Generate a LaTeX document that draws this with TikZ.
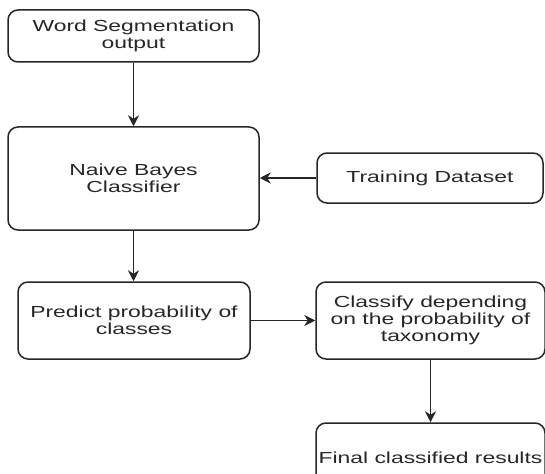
\documentclass[tikz,border=0pt]{standalone}
\usepackage{fontspec}
\setmainfont{Liberation Sans}[FakeStretch=1.43]
\usetikzlibrary{arrows.meta}
\tikzset{
  flowbox/.style={draw=black!85, line width=1.5pt, rounded corners=10pt,
    align=center, inner sep=0pt, text=black!85,
    font=\fontsize{16pt}{17pt}\selectfont},
  flowarrow/.style={draw=black!85, line width=1.6pt,
    -{Stealth[length=11pt,width=11pt,inset=3.5pt]}}
}
\begin{document}
\begin{tikzpicture}[x=1pt,y=-1pt]
  \useasboundingbox (0,0) rectangle (545,473);
  \clip (0,0) rectangle (545,473);
  \node[flowbox, minimum width=251pt, minimum height=52pt] (seg) at (133.5,36)
    {Word Segmentation\\output};
  \node[flowbox, minimum width=251pt, minimum height=103pt] (nb) at (133.5,178.5)
    {Naive Bayes\\Classifier};
  \node[flowbox, minimum width=226pt, minimum height=50pt] (train) at (430,178)
    {Training Dataset};
  \node[flowbox, minimum width=232pt, minimum height=77pt] (pred) at (134,320.5)
    {Predict probability of\\classes};
  \node[flowbox, minimum width=229pt, minimum height=77pt] (cls) at (430.5,320.5)
    {Classify depending\\on the probability of\\taxonomy};
  \node[flowbox, minimum width=229pt, minimum height=70pt] (final) at (430.5,458)
    {Final classified results};

  \draw[flowarrow] (seg.south) -- (nb.north);
  \draw[flowarrow] (train.west) -- (nb.east |- train.west);
  \draw[flowarrow] (nb.south) -- (pred.north -| nb.south);
  \draw[flowarrow] (pred.east) -- (cls.west);
  \draw[flowarrow] (cls.south) -- (final.north);
\end{tikzpicture}
\end{document}
